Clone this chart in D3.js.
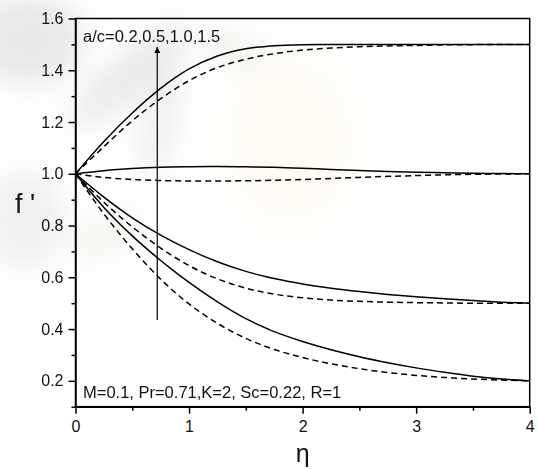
<!DOCTYPE html>
<html>
<head>
    <meta charset="utf-8">
    <title>f' vs eta</title>
    <script src="https://d3js.org/d3.v7.min.js"></script>
    <style>
        body {
            margin: 0;
            background-color: white;
            font-family: Arial, "Liberation Sans", sans-serif;
        }
        svg {
            display: block;
        }
        .curve {
            fill: none;
            stroke: black;
            stroke-width: 1.5px;
        }
        .dashed {
            stroke-dasharray: 6, 4;
        }
        .axis path,
        .axis line {
            stroke: black;
            stroke-width: 1.5px;
        }
        .axis text {
            font-family: Arial, "Liberation Sans", sans-serif;
            fill: #111;
        }
    </style>
</head>
<body>
    <svg width="538" height="469"></svg>

    <script>
        // eta grid and f' values
        const eta = [0, 0.25, 0.5, 0.75, 1, 1.25, 1.5, 1.75, 2, 2.25, 2.5, 2.75, 3, 3.25, 3.5, 3.75, 4];

        const solid15 = [1.0, 1.125, 1.235, 1.33, 1.405, 1.455, 1.483, 1.495, 1.499, 1.5, 1.5, 1.5, 1.5, 1.5, 1.5, 1.5, 1.5];
        const dashed15 = [1.0, 1.105, 1.205, 1.29, 1.36, 1.41, 1.443, 1.464, 1.478, 1.486, 1.491, 1.494, 1.496, 1.498, 1.499, 1.5, 1.5];

        const solid10 = [1.0, 1.012, 1.02, 1.025, 1.027, 1.028, 1.027, 1.025, 1.021, 1.017, 1.013, 1.009, 1.006, 1.004, 1.002, 1.001, 1.0];
        const dashed10 = [1.0, 0.986, 0.978, 0.974, 0.972, 0.972, 0.973, 0.975, 0.978, 0.982, 0.986, 0.99, 0.993, 0.996, 0.998, 0.999, 1.0];

        const solid05 = [1.0, 0.91, 0.83, 0.763, 0.707, 0.66, 0.623, 0.595, 0.574, 0.558, 0.545, 0.534, 0.525, 0.517, 0.51, 0.504, 0.5];
        const dashed05 = [1.0, 0.89, 0.795, 0.713, 0.645, 0.594, 0.558, 0.535, 0.521, 0.512, 0.507, 0.504, 0.502, 0.501, 0.5, 0.5, 0.5];

        const solid02 = [1.0, 0.87, 0.76, 0.665, 0.58, 0.505, 0.44, 0.39, 0.352, 0.32, 0.293, 0.27, 0.25, 0.233, 0.218, 0.207, 0.2];
        const dashed02 = [1.0, 0.845, 0.71, 0.593, 0.497, 0.422, 0.364, 0.321, 0.29, 0.266, 0.247, 0.232, 0.221, 0.213, 0.207, 0.203, 0.2];

        const solidSeries = [solid02, solid05, solid10, solid15];
        const dashedSeries = [dashed02, dashed05, dashed10, dashed15];

        const xTicks = [0, 1, 2, 3, 4];
        const xMinor = [0.5, 1.5, 2.5, 3.5];
        const yTicks = [0.2, 0.4, 0.6, 0.8, 1.0, 1.2, 1.4, 1.6];
        const yMinor = [0.1, 0.3, 0.5, 0.7, 0.9, 1.1, 1.3, 1.5];

        const arrowEta = 0.72, arrowFrom = 0.435, arrowTo = 1.49;
        const topLabel = "a/c=0.2,0.5,1.0,1.5";
        const bottomLabel = "M=0.1, Pr=0.71,K=2, Sc=0.22, R=1";

        const svg = d3.select("svg");

        const plotLeft = 75.5, plotRight = 529.7, plotTop = 18.5, plotBottom = 406.7;

        const x = d3.scaleLinear().domain([0, 4]).range([plotLeft, plotRight]);
        const y = d3.scaleLinear().domain([0.1, 1.6]).range([plotBottom, plotTop]);

        // faint watermark behind the chart
        const defs = svg.append("defs");
        defs.append("filter").attr("id", "blur")
            .attr("x", "-50%").attr("y", "-50%").attr("width", "200%").attr("height", "200%")
            .append("feGaussianBlur").attr("stdDeviation", 14);

        defs.append("marker")
            .attr("id", "head")
            .attr("viewBox", "0 0 10 10")
            .attr("refX", 10).attr("refY", 5)
            .attr("markerWidth", 10).attr("markerHeight", 6)
            .attr("markerUnits", "userSpaceOnUse")
            .attr("orient", "auto")
            .append("path")
            .attr("d", "M0,0 L10,5 L0,10 Z")
            .attr("fill", "black");

        const wm = svg.append("g").attr("filter", "url(#blur)");
        const blobs = [
            { cx: 30, cy: 40, rx: 55, ry: 45, c: "#d2d2d2", o: 0.5, r: 0 },
            { cx: 25, cy: 220, rx: 40, ry: 50, c: "#d9d9d9", o: 0.4, r: 0 },
            { cx: 130, cy: 75, rx: 75, ry: 22, c: "#cdcdcd", o: 0.4, r: -40 },
            { cx: 160, cy: 120, rx: 18, ry: 60, c: "#c9c9c9", o: 0.3, r: 10 },
            { cx: 235, cy: 50, rx: 45, ry: 18, c: "#dcd6cc", o: 0.3, r: 20 },
            { cx: 290, cy: 140, rx: 70, ry: 90, c: "#fcf6e2", o: 0.35, r: 0 },
            { cx: 105, cy: 235, rx: 40, ry: 20, c: "#e4dfd3", o: 0.35, r: -30 }
        ];
        wm.selectAll("ellipse")
            .data(blobs)
            .enter()
            .append("ellipse")
            .attr("cx", d => d.cx).attr("cy", d => d.cy)
            .attr("rx", d => d.rx).attr("ry", d => d.ry)
            .attr("fill", d => d.c).attr("opacity", d => d.o)
            .attr("transform", d => `rotate(${d.r},${d.cx},${d.cy})`);

        // axes
        const fmt = d3.format(".1f");

        svg.append("g")
           .attr("class", "axis")
           .attr("transform", `translate(0,${plotBottom})`)
           .call(d3.axisBottom(x).tickValues(xTicks).tickFormat(d3.format("d")).tickSize(7).tickSizeOuter(0))
           .call(g => g.selectAll("text").attr("font-size", "16px").attr("dy", "0.95em"));

        svg.append("g")
           .attr("class", "axis")
           .attr("transform", `translate(0,${plotBottom})`)
           .call(d3.axisBottom(x).tickValues(xMinor).tickFormat("").tickSize(4).tickSizeOuter(0))
           .call(g => g.select(".domain").remove());

        svg.append("g")
           .attr("class", "axis")
           .attr("transform", `translate(${plotLeft},0)`)
           .call(d3.axisLeft(y).tickValues(yTicks).tickFormat(fmt).tickSize(7).tickSizeOuter(0))
           .call(g => g.selectAll("text").attr("font-size", "16px").attr("x", -12));

        svg.append("g")
           .attr("class", "axis")
           .attr("transform", `translate(${plotLeft},0)`)
           .call(d3.axisLeft(y).tickValues(yMinor).tickFormat("").tickSize(4).tickSizeOuter(0))
           .call(g => g.select(".domain").remove());

        // frame
        svg.append("rect")
           .attr("x", plotLeft).attr("y", plotTop)
           .attr("width", plotRight - plotLeft).attr("height", plotBottom - plotTop)
           .attr("fill", "none").attr("stroke", "black").attr("stroke-width", 1.5);

        // curves
        const line = d3.line()
                       .x((d, i) => x(eta[i]))
                       .y(d => y(d))
                       .curve(d3.curveMonotoneX);

        svg.selectAll(".solid")
           .data(solidSeries)
           .enter()
           .append("path")
           .attr("class", "curve solid")
           .attr("d", line);

        svg.selectAll(".dashed")
           .data(dashedSeries)
           .enter()
           .append("path")
           .attr("class", "curve dashed")
           .attr("d", line);

        // arrow
        svg.append("line")
           .attr("x1", x(arrowEta)).attr("x2", x(arrowEta))
           .attr("y1", y(arrowFrom)).attr("y2", y(arrowTo))
           .attr("stroke", "black").attr("stroke-width", 1.2)
           .attr("marker-end", "url(#head)");

        // annotations
        svg.append("text")
           .attr("x", 83).attr("y", 42)
           .attr("font-size", "16.5px")
           .attr("fill", "#111")
           .text(topLabel);

        svg.append("text")
           .attr("x", 83).attr("y", 397.5)
           .attr("font-size", "16.5px")
           .attr("fill", "#111")
           .text(bottomLabel);

        // axis titles
        svg.append("text")
           .attr("x", 15).attr("y", 213)
           .attr("font-size", "27px")
           .attr("fill", "#111")
           .text("f '");

        svg.append("text")
           .attr("x", x(2)).attr("y", 462)
           .attr("text-anchor", "middle")
           .attr("font-size", "25px")
           .attr("fill", "#111")
           .text("η");
    </script>
</body>
</html>
